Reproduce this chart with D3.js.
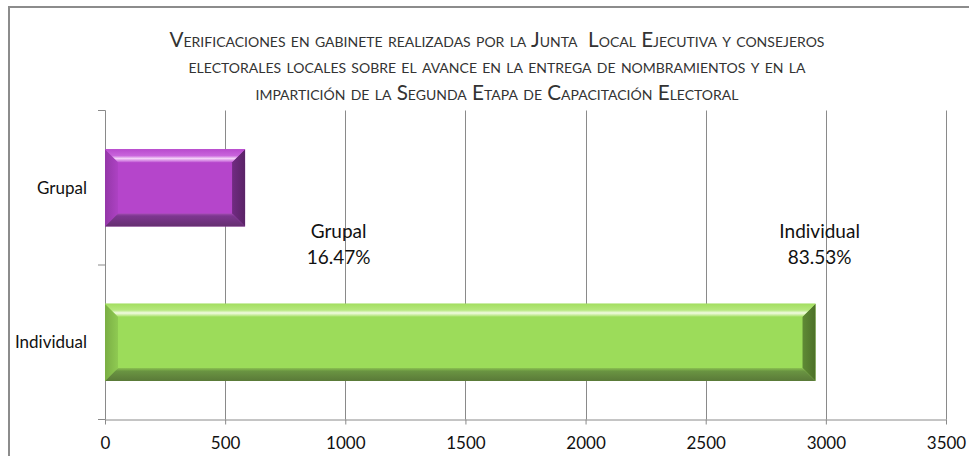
<!DOCTYPE html>
<html>
<head>
<meta charset="utf-8">
<script src="https://cdn.jsdelivr.net/npm/d3@7"></script>
<style>
  body { margin: 0; background: #fff; }
  svg { display: block; font-family: Lato, "Open Sans", sans-serif; }
</style>
</head>
<body>
<svg width="969" height="456"></svg>
<script>
var categories = ["Grupal", "Individual"];
var values = [583, 2957];
var xTicks = [0, 500, 1000, 1500, 2000, 2500, 3000, 3500];
var titleLines = [
  "Verificaciones en gabinete realizadas por la Junta  Local Ejecutiva y consejeros",
  "electorales locales sobre el avance en la entrega de nombramientos y en la",
  "impartición de la Segunda Etapa de Capacitación Electoral"
];

var svg = d3.select("svg"),
    width = +svg.attr("width"),
    height = +svg.attr("height");

var GRID = "#8a8a8a";
var plot = {left: 105, right: 946, top: 110.5, bottom: 419.5};

var x = d3.scaleLinear().domain([0, 3500]).range([plot.left, plot.right]);
var y = d3.scaleBand().domain(categories).range([plot.top, plot.bottom]).padding(0);

// bevel palettes: face, left, right, top stops, bottom stops
var palettes = [
  {face: "#b545cb", left: ["#9437a8", "#ad42c3"], right: ["#712b82", "#5a2366"],
   top: [[0, "#b84acd"], [0.5, "#c964dc"], [0.72, "#f3d2f8"], [1, "#c35bd6"]],
   bottom: [[0, "#a24db3"], [0.2, "#7d3690"], [1, "#652f70"]]},
  {face: "#9cdc5a", left: ["#7aae44", "#8fca52"], right: ["#5f8b35", "#4d7029"],
   top: [[0, "#a3de60"], [0.5, "#b6e87e"], [0.72, "#f3fbe2"], [1, "#a9e16a"]],
   bottom: [[0, "#8cc451"], [0.25, "#6a9442"], [1, "#5a7a38"]]}
];

var defs = svg.append("defs");
palettes.forEach(function(p, i) {
  function grad(id, stops, vertical) {
    var g = defs.append("linearGradient").attr("id", id)
      .attr("x1", 0).attr("y1", 0)
      .attr("x2", vertical ? 0 : 1).attr("y2", vertical ? 1 : 0);
    stops.forEach(function(s) {
      g.append("stop").attr("offset", s[0]).attr("stop-color", s[1]);
    });
  }
  grad("top" + i, p.top, true);
  grad("bot" + i, p.bottom, true);
  grad("lft" + i, [[0, p.left[0]], [1, p.left[1]]], false);
  grad("rgt" + i, [[0, p.right[0]], [1, p.right[1]]], false);
});

// outer chart frame
svg.append("path")
  .attr("d", "M9," + (height + 5) + "V7H" + (width + 5))
  .attr("fill", "none")
  .attr("stroke", "#8c8c8c")
  .attr("stroke-width", 2);

// title
var title = svg.append("g")
  .attr("fill", "#333")
  .attr("text-anchor", "middle")
  .style("font-variant", "small-caps");
var titleText = title.selectAll("text")
  .data(titleLines)
  .enter().append("text")
  .attr("xml:space", "preserve")
  .attr("x", 497)
  .attr("y", function(d, i) { return 46.5 + i * 26.7; })
  .attr("font-size", 15)
  .text(function(d) { return d; });
var w0 = titleText.node().getComputedTextLength();
titleText.attr("font-size", 15 * 701 / w0);

// gridlines
svg.append("g")
  .selectAll("line")
  .data(xTicks)
  .enter().append("line")
  .attr("x1", function(d) { return Math.round(x(d)) + 0.5; })
  .attr("x2", function(d) { return Math.round(x(d)) + 0.5; })
  .attr("y1", plot.top)
  .attr("y2", plot.bottom)
  .attr("stroke", GRID);

// x axis
var xAxis = svg.append("g")
  .attr("transform", "translate(0," + plot.bottom + ")")
  .call(d3.axisBottom(x).tickValues(xTicks).tickFormat(d3.format("d"))
    .tickSizeInner(5).tickSizeOuter(0));
xAxis.select(".domain").attr("stroke", GRID);
xAxis.selectAll(".tick line").attr("stroke", GRID);
xAxis.selectAll(".tick text")
  .attr("y", 29).attr("dy", 0)
  .attr("fill", "#111")
  .style("font-size", "17px")
  .style("font-family", "Lato, sans-serif");

// y axis line and ticks at category boundaries
var bounds = categories.map(function(c) { return y(c); }).concat([plot.bottom]);
svg.append("line")
  .attr("x1", plot.left + 0.5).attr("x2", plot.left + 0.5)
  .attr("y1", plot.top).attr("y2", plot.bottom)
  .attr("stroke", GRID);
svg.append("g").selectAll("line")
  .data(bounds)
  .enter().append("line")
  .attr("x1", plot.left - 7).attr("x2", plot.left)
  .attr("y1", function(d) { return d; }).attr("y2", function(d) { return d; })
  .attr("stroke", GRID);

svg.append("g")
  .attr("text-anchor", "end")
  .attr("fill", "#111")
  .attr("font-size", 17)
  .selectAll("text")
  .data(categories)
  .enter().append("text")
  .attr("x", 87)
  .attr("y", function(d) { return y(d) + y.bandwidth() / 2; })
  .attr("dy", "0.35em")
  .text(function(d) { return d; });

// bevelled bars, gap width 100%
var BEVEL = 13;
var bars = svg.append("g")
  .selectAll("g")
  .data(values)
  .enter().append("g");

bars.each(function(v, i) {
  var g = d3.select(this);
  var x0 = x(0), x1 = x(v);
  var h = y.bandwidth() / 2;
  var y0 = y(categories[i]) + y.bandwidth() / 4, y1 = y0 + h;
  var b = BEVEL;
  function poly(pts, fill) {
    g.append("polygon")
      .attr("points", pts.map(function(p) { return p.join(","); }).join(" "))
      .attr("fill", fill);
  }
  g.append("rect")
    .attr("x", x0).attr("y", y0)
    .attr("width", x1 - x0).attr("height", h)
    .attr("fill", palettes[i].face);
  poly([[x0, y0], [x0 + b, y0 + b], [x0 + b, y1 - b], [x0, y1]], "url(#lft" + i + ")");
  poly([[x1, y0], [x1 - b, y0 + b], [x1 - b, y1 - b], [x1, y1]], "url(#rgt" + i + ")");
  poly([[x0, y0], [x1, y0], [x1 - b, y0 + b], [x0 + b, y0 + b]], "url(#top" + i + ")");
  poly([[x0, y1], [x1, y1], [x1 - b, y1 - b], [x0 + b, y1 - b]], "url(#bot" + i + ")");
});

// data labels (category name + share of total)
var total = d3.sum(values);
var pct = d3.format(".2%");
var labelAt = [972, 2974];
var labels = svg.append("g")
  .attr("text-anchor", "middle")
  .attr("fill", "#111")
  .attr("font-size", 19)
  .selectAll("g")
  .data(values)
  .enter().append("text")
  .attr("transform", function(d, i) {
    return "translate(" + x(labelAt[i]) + "," + (y(categories[1]) - 34) + ")";
  });
labels.append("tspan")
  .attr("x", 0).attr("dy", "0.35em")
  .text(function(d, i) { return categories[i]; });
labels.append("tspan")
  .attr("x", 0).attr("dy", 26)
  .text(function(d) { return pct(d / total); });
</script>
</body>
</html>
